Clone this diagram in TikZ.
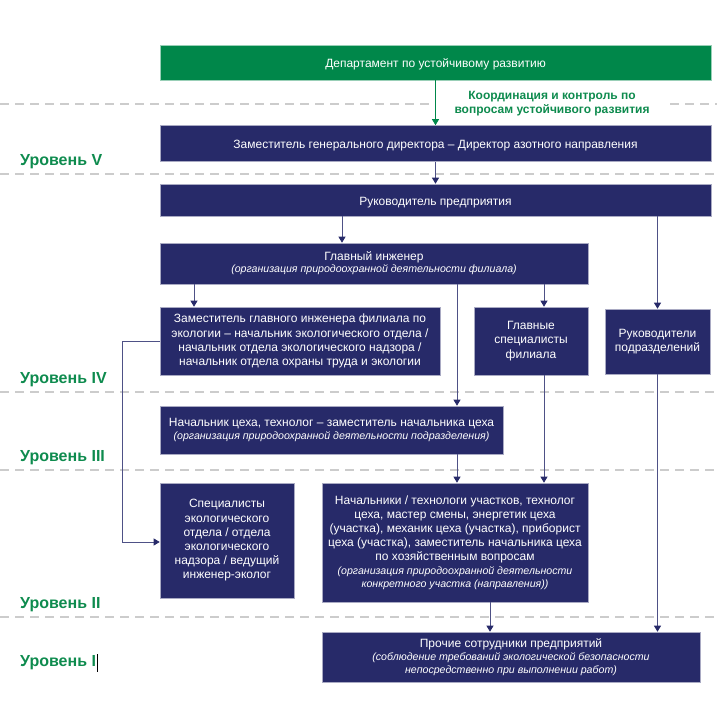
\documentclass[tikz,border=0pt]{standalone}
\usepackage{fontspec}
\setmainfont{Liberation Sans}
\usetikzlibrary{arrows.meta,calc}
\definecolor{navy}{HTML}{272A69}
\definecolor{dgreen}{HTML}{00874A}
\definecolor{lgreen}{HTML}{0E8B4E}
\definecolor{linec}{HTML}{4E5186}
\definecolor{dashc}{HTML}{CCCCCC}
\newcommand\subtxt{\fontsize{10.6}{13}\selectfont\itshape}
\tikzset{
  box/.style={fill=navy, draw=navy!40!white, line width=0.6pt, text=white, align=center,
    inner sep=1pt, font=\fontsize{12}{14.2}\selectfont, execute at begin node={\rule{0pt}{13pt}}},
  gbox/.style={box, fill=dgreen, draw=dgreen!40!white},
  arr/.style={draw=linec, line width=0.8pt, -{Triangle[length=6pt,width=7pt,color=navy]}},
  garr/.style={draw=dgreen, line width=0.8pt, -{Triangle[length=6pt,width=7pt,color=dgreen]}},
  lvl/.style={text=lgreen, font=\fontsize{16}{18}\selectfont\bfseries, anchor=west, inner sep=0pt},
  sep/.style={draw=dashc, line width=1.6pt, dash pattern=on 9pt off 6pt}
}
\begin{document}
\begin{tikzpicture}[x=1pt,y=-1pt]
\useasboundingbox (0,0) rectangle (717,718);
% separators
\draw[sep] (0,104) -- (432,104);
\draw[sep] (670,104) -- (717,104);
\draw[sep] (0,174) -- (717,174);
\draw[sep] (0,392) -- (717,392);
\draw[sep] (0,470) -- (717,470);
\draw[sep] (0,617) -- (717,617);
% nodes
\node[gbox, minimum width=551pt, minimum height=35pt] (dep) at (435.5,62.5) {Департамент по устойчивому развитию};
\node[box, minimum width=551pt, minimum height=36pt] (zam) at (435.5,143.5) {Заместитель генерального директора – Директор азотного направления};
\node[box, minimum width=551pt, minimum height=32pt] (ruk) at (435.5,200) {Руководитель предприятия};
\node[box, minimum width=428pt, minimum height=41pt] (glav) at (374,263.5) {Главный инженер\\[-2pt]{\subtxt (организация природоохранной деятельности филиала)}};
\node[box, minimum width=280pt, minimum height=68pt] (zamglav) at (300,341) {Заместитель главного инженера филиала по\\экологии – начальник экологического отдела /\\начальник отдела экологического надзора /\\начальник отдела охраны труда и экологии};
\node[box, minimum width=114pt, minimum height=68pt] (glspec) at (531,341) {Главные\\специалисты\\филиала};
\node[box, minimum width=105pt, minimum height=65pt] (rukpod) at (657.5,341.5) {Руководители\\подразделений};
\node[box, minimum width=343pt, minimum height=48pt] (nach) at (331.5,430) {Начальник цеха, технолог – заместитель начальника цеха\\[-2pt]{\subtxt (организация природоохранной деятельности подразделения)}};
\node[box, minimum width=134pt, minimum height=115pt] (spec) at (227,540.5) {Специалисты\\экологического\\отдела / отдела\\экологического\\надзора / ведущий\\инженер-эколог};
\node[box, minimum width=266pt, minimum height=119pt] (nachuch) at (455,542.5) {Начальники / технологи участков, технолог\\цеха, мастер смены, энергетик цеха\\(участка), механик цеха (участка), приборист\\цеха (участка), заместитель начальника цеха\\по хозяйственным вопросам\\[-1pt]{\subtxt (организация природоохранной деятельности}\\[-1pt]{\subtxt конкретного участка (направления))}};
\node[box, minimum width=378pt, minimum height=50pt] (proch) at (511,657) {Прочие сотрудники предприятий\\[-1pt]{\subtxt (соблюдение требований экологической безопасности}\\[-1pt]{\subtxt непосредственно при выполнении работ)}};
% coordination label
\node[text=lgreen, font=\fontsize{12}{14}\selectfont\bfseries, align=center] (coord) at (552,103.5) {Координация и контроль по\\вопросам устойчивого развития};
% level labels
\node[lvl] (l5) at (20,162) {Уровень V};
\node[lvl] (l4) at (20,380) {Уровень IV};
\node[lvl] (l3) at (20,458) {Уровень III};
\node[lvl] (l2) at (20,605) {Уровень II};
\node[lvl] (l1) at (20,663) {Уровень I};
\draw[black, line width=0.6pt] ($(l1.east)+(1.5,-9)$) -- ($(l1.east)+(1.5,9)$);
% connectors
\draw[garr] (dep.south) -- (zam.north);
\draw[arr] (zam.south) -- (ruk.north);
\draw[arr] (ruk.south -| 342,0) -- (glav.north -| 342,0);
\draw[arr] (ruk.south -| rukpod.north) -- (rukpod.north);
\draw[arr] (glav.south -| 194,0) -- (zamglav.north -| 194,0);
\draw[arr] (glav.south -| 457,0) -- (nach.north -| 457,0);
\draw[arr] (glav.south -| 544,0) -- (glspec.north -| 544,0);
\draw[arr] (zamglav.west) -- (122,341) -- (122,542) -- (spec.west |- 0,542);
\draw[arr] (nach.south -| 457,0) -- (nachuch.north -| 457,0);
\draw[arr] (glspec.south -| 544,0) -- (nachuch.north -| 544,0);
\draw[arr] (nachuch.south -| 490,0) -- (proch.north -| 490,0);
\draw[arr] (rukpod.south) -- (proch.north -| rukpod.south);
\end{tikzpicture}
\end{document}
